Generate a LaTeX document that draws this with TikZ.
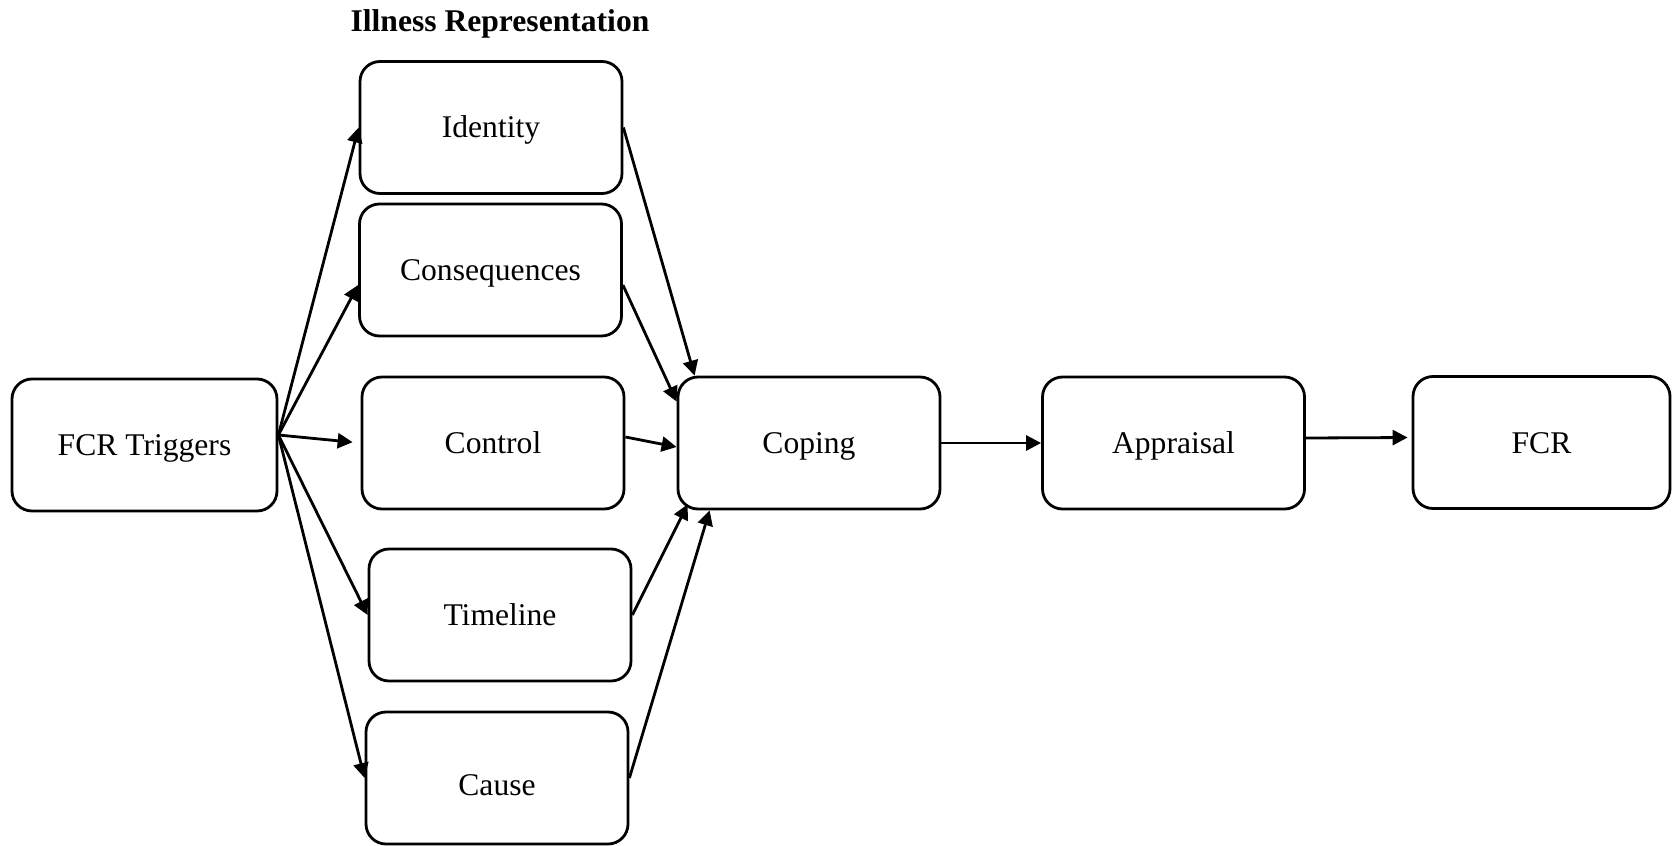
\documentclass[tikz,border=0pt]{standalone}
\usepackage{fontspec}
\setmainfont{Liberation Serif}
\usetikzlibrary{arrows.meta}

\begin{document}
\begin{tikzpicture}[x=0.5pt, y=-0.5pt, line width=1.4pt,
        block/.style = {draw, rounded corners=10pt, minimum width=131pt, minimum height=66pt, inner sep=0pt,
                        text height=10.5pt, text depth=0pt, font=\fontsize{15.8}{19}\selectfont},
        link/.style = {-{Triangle[length=7.5pt, width=7.5pt]}, line width=1.4pt}]

        \useasboundingbox (0,0) rectangle (1673,845);

        \node[anchor=base, font=\fontsize{15.8}{19}\selectfont\bfseries] (title) at (500, 32) {Illness Representation};

        % Triggers
        \node[block, minimum width=132.5pt] (trig) at (144.5, 445) {FCR Triggers};
        \coordinate (src) at ([yshift=5pt]trig.east);

        % Illness representation
        \node[block] (ident) at (491, 127.5) {Identity};
        \node[block] (cons) at (490.5, 270) {Consequences};
        \node[block] (ctrl) at (493, 443) {Control};
        \node[block] (time) at (500, 615) {Timeline};
        \node[block, text height=17.5pt] (cause) at (497, 778) {Cause};

        % Coping, appraisal, FCR
        \node[block] (cop) at (809, 443) {Coping};
        \node[block] (appr) at (1173.5, 443) {Appraisal};
        \node[block, minimum width=128.5pt] (fcr) at (1541.5, 442.5) {FCR};

        \draw[link] (src) -- (ident.west);
        \draw[link] (src) -- ([yshift=-7.5pt]cons.west);
        \draw[link, shorten >=4pt] (src) -- (ctrl.west);
        \draw[link] (src) -- (time.west);
        \draw[link] (src) -- (cause.west);

        \draw[link] (ident.east) -- ([xshift=9pt]cop.north west);
        \draw[link] ([yshift=-7.5pt]cons.east) -- ([yshift=-13pt]cop.north west);
        \draw[link] ([yshift=3pt]ctrl.east) -- ([yshift=-2pt]cop.west);
        \draw[link] (time.east) -- ([xshift=5.5pt, yshift=3pt]cop.south west);
        \draw[link] (cause.east) -- ([xshift=16.5pt]cop.south west);

        \draw[link] (cop) -- (appr);
        \draw[link, shorten >=2pt] ([yshift=2.5pt]appr.east) -- ([yshift=2.5pt]fcr.west);
    \end{tikzpicture}
\end{document}
